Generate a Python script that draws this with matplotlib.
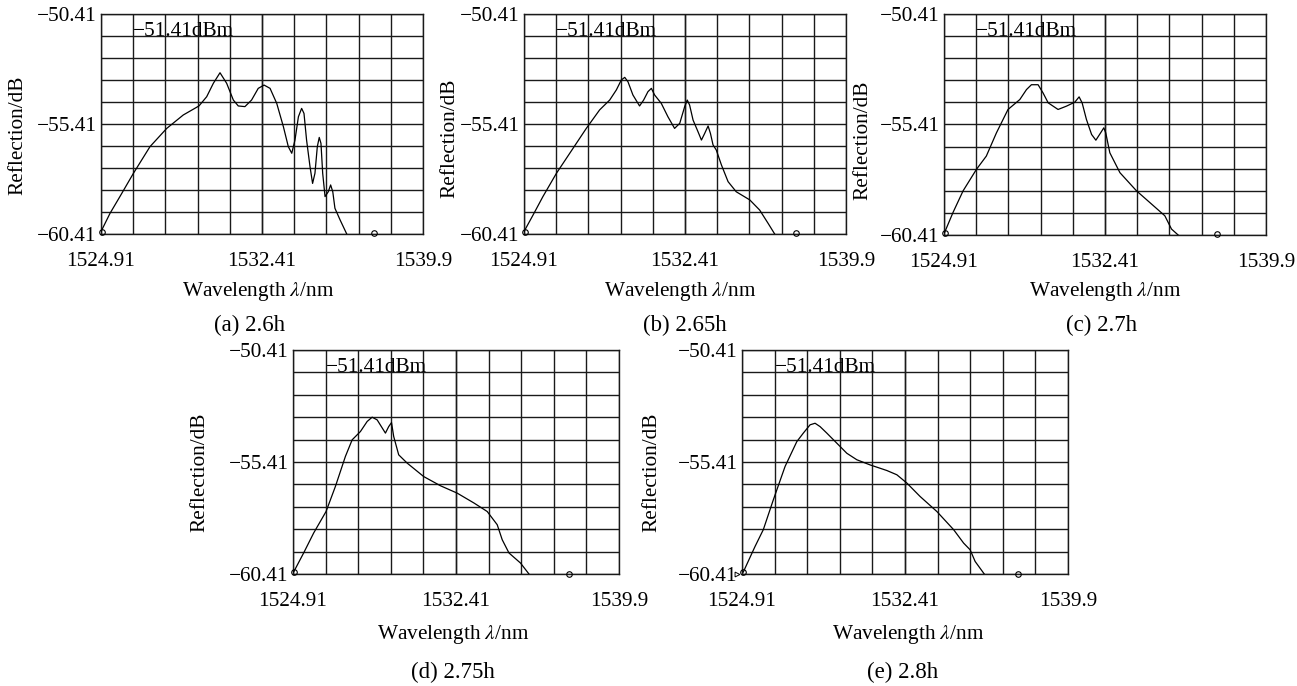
import matplotlib
matplotlib.use('Agg')
import matplotlib.pyplot as plt
import numpy as np

plt.rcParams['font.family'] = ['Liberation Serif', 'DejaVu Serif']
plt.rcParams['mathtext.fontset'] = 'stix'

# ---------------- data ----------------
x_min, x_max = 1524.91, 1539.90
y_min, y_max = -60.41, -50.41
x_tick_vals = [1524.91, 1532.41, 1539.9]
x_tick_labels = ['1524.91', '1532.41', '1539.9']
y_tick_vals = [-60.41, -55.41, -50.41]
y_tick_labels = ['\u221260.41', '\u221255.41', '\u221250.41']
ref_label = '\u221251.41dBm'
ref_level = -51.41
ref_wl = 1526.41
captions = ['(a) 2.6h', '(b) 2.65h', '(c) 2.7h', '(d) 2.75h', '(e) 2.8h']
x_title = 'Wavelength $\\it{\\lambda}$/nm'
y_title = 'Reflection/dB'

wl_a = [1524.91, 1525.33, 1525.79, 1526.42, 1527.19, 1527.97, 1528.74, 1529.47, 1529.83,
        1530.14, 1530.45, 1530.76, 1531.07, 1531.30, 1531.61, 1531.92, 1532.23, 1532.50,
        1532.78, 1533.09, 1533.40, 1533.63, 1533.79, 1533.94, 1534.10, 1534.25, 1534.36,
        1534.48, 1534.64, 1534.76, 1534.87, 1534.98, 1535.07, 1535.15, 1535.23, 1535.34,
        1535.49, 1535.60, 1535.70, 1535.80, 1536.04, 1536.35]
refl_a = [-60.30, -59.47, -58.71, -57.65, -56.44, -55.61, -55.00, -54.59, -54.17,
          -53.56, -53.08, -53.56, -54.32, -54.59, -54.62, -54.32, -53.79, -53.64,
          -53.79, -54.47, -55.53, -56.44, -56.74, -56.14, -55.08, -54.70, -54.93,
          -56.14, -57.35, -58.11, -57.65, -56.44, -56.02, -56.29, -57.65, -58.71,
          -58.49, -58.18, -58.49, -59.24, -59.77, -60.41]

wl_b = [1524.91, 1525.33, 1525.79, 1526.42, 1527.04, 1527.81, 1528.43, 1528.90, 1529.21,
        1529.44, 1529.60, 1529.75, 1529.98, 1530.29, 1530.48, 1530.68, 1530.84, 1530.99,
        1531.30, 1531.61, 1531.92, 1532.16, 1532.39, 1532.51, 1532.62, 1532.78, 1533.01,
        1533.17, 1533.32, 1533.48, 1533.59, 1533.71, 1533.86, 1534.10, 1534.41, 1534.79,
        1535.42, 1535.88, 1536.27, 1536.58]
refl_b = [-60.30, -59.55, -58.71, -57.65, -56.74, -55.61, -54.77, -54.32, -53.86,
          -53.41, -53.29, -53.49, -54.09, -54.59, -54.32, -53.94, -53.79, -54.09,
          -54.47, -55.08, -55.61, -55.38, -54.62, -54.32, -54.55, -55.23, -55.76,
          -56.14, -55.84, -55.50, -55.84, -56.36, -56.59, -57.27, -58.03, -58.49,
          -58.86, -59.32, -59.92, -60.41]

wl_c = [1524.94, 1525.33, 1525.80, 1526.42, 1526.88, 1527.35, 1527.89, 1528.44, 1528.75,
        1528.98, 1529.29, 1529.52, 1529.76, 1530.22, 1530.61, 1531.00, 1531.20, 1531.34,
        1531.54, 1531.78, 1531.98, 1532.20, 1532.35, 1532.44, 1532.63, 1533.10, 1533.87,
        1534.49, 1535.19, 1535.50, 1535.81]
refl_c = [-60.29, -59.39, -58.41, -57.44, -56.84, -55.79, -54.73, -54.28, -53.83,
          -53.61, -53.61, -53.98, -54.43, -54.73, -54.58, -54.40, -54.16, -54.43,
          -55.18, -55.86, -56.12, -55.79, -55.56, -55.79, -56.69, -57.59, -58.41,
          -58.94, -59.54, -60.14, -60.41]

wl_d = [1524.94, 1525.40, 1525.86, 1526.43, 1526.86, 1527.32, 1527.63, 1528.01, 1528.32,
        1528.55, 1528.78, 1529.16, 1529.31, 1529.44, 1529.54, 1529.77, 1530.16, 1530.92,
        1531.69, 1532.46, 1533.23, 1533.84, 1534.30, 1534.53, 1534.84, 1535.37, 1535.76]
refl_d = [-60.32, -59.47, -58.58, -57.62, -56.50, -55.16, -54.42, -54.05, -53.60,
          -53.41, -53.53, -54.12, -53.83, -53.65, -54.27, -55.09, -55.46, -56.06,
          -56.47, -56.80, -57.24, -57.62, -58.21, -58.88, -59.47, -59.92, -60.41]

wl_e = [1524.97, 1525.51, 1525.89, 1526.35, 1526.89, 1527.43, 1527.73, 1528.04, 1528.27,
        1528.50, 1528.81, 1529.27, 1529.73, 1530.19, 1530.80, 1531.57, 1532.03, 1532.49,
        1533.10, 1533.87, 1534.64, 1535.10, 1535.40, 1535.63, 1536.05]
refl_e = [-60.32, -59.18, -58.43, -57.10, -55.61, -54.50, -54.12, -53.75, -53.68,
          -53.83, -54.12, -54.57, -55.02, -55.31, -55.54, -55.79, -55.98, -56.35,
          -56.95, -57.62, -58.43, -59.03, -59.33, -59.85, -60.41]

# cursor markers (open circles): start and end markers
marker_wl = [[1524.96, 1537.63], [1524.96, 1537.59], [1524.96, 1537.60],
             [1524.96, 1537.60], [1524.96, 1537.60]]
marker_refl = [[-60.31, -60.38], [-60.31, -60.38], [-60.31, -60.38],
               [-60.33, -60.41], [-60.33, -60.43]]

series = [(wl_a, refl_a), (wl_b, refl_b), (wl_c, refl_c), (wl_d, refl_d), (wl_e, refl_e)]

# ---------------- layout (pixels) ----------------
W, H = 1297, 686
rects = [(101, 14, 322, 220), (524, 14, 322, 220), (944, 14, 322, 221),
         (293, 350, 326, 224), (742, 350, 326, 224)]
ylab_pos = [(18, 135), (450, 138), (863, 140), (200, 472), (652, 472)]
xlab_pos = [(258, 292), (680, 292), (1105, 292), (453, 635), (908, 635)]
cap_pos = [(250, 325), (685, 325), (1102, 325), (453, 672), (903, 672)]

FS = 15.3
FS_CAP = 16.5
LC = '#1a1a1a'

fig = plt.figure(figsize=(W / 100, H / 100), dpi=100)
fig.patch.set_facecolor('white')

def fx(px):
    return px / W

def fy(py):
    return 1 - py / H

for i, (L, T, Wd, Ht) in enumerate(rects):
    ax = fig.add_axes([L / W, 1 - (T + Ht) / H, Wd / W, Ht / H])
    ax.set_xlim(x_min, x_max)
    ax.set_ylim(y_min, y_max)
    ax.set_xticks(x_tick_vals)
    ax.set_xticklabels(x_tick_labels, fontsize=FS)
    ax.set_yticks(y_tick_vals)
    ax.set_yticklabels(y_tick_labels, fontsize=FS)
    ax.set_xticks(np.linspace(x_min, x_max, 11), minor=True)
    ax.set_yticks(np.linspace(y_min, y_max, 11), minor=True)
    ax.tick_params(which='both', length=0)
    ax.tick_params(axis='x', pad=13)
    ax.tick_params(axis='y', pad=3)
    ax.grid(True, which='both', color=LC, linewidth=1.0)
    ax.set_axisbelow(True)
    for s in ax.spines.values():
        s.set_color(LC)
        s.set_linewidth(1.0)
    wl, rf = series[i]
    ax.plot(wl, rf, color='black', linewidth=0.9, zorder=3)
    ax.plot(marker_wl[i], marker_refl[i], linestyle='none', marker='o', ms=4,
            mfc='none', mec='black', mew=0.8, clip_on=False, zorder=4)
    if i == 4:
        ax.plot([x_min - 0.22], [y_min], linestyle='none', marker='>', ms=3.5,
                mfc='none', mec='black', mew=0.7, clip_on=False, zorder=4)
    ax.text(ref_wl, ref_level, ref_label, fontsize=FS, ha='left', va='baseline',
            color='black', zorder=5)
    fig.text(fx(ylab_pos[i][0]), fy(ylab_pos[i][1]), y_title, rotation=90,
             ha='center', va='center', fontsize=FS)
    fig.text(fx(xlab_pos[i][0]), fy(xlab_pos[i][1]), x_title,
             ha='center', va='center', fontsize=FS)
    fig.text(fx(cap_pos[i][0]), fy(cap_pos[i][1]), captions[i],
             ha='center', va='center', fontsize=FS_CAP)

fig.savefig('out.png', dpi=100, facecolor='white')
